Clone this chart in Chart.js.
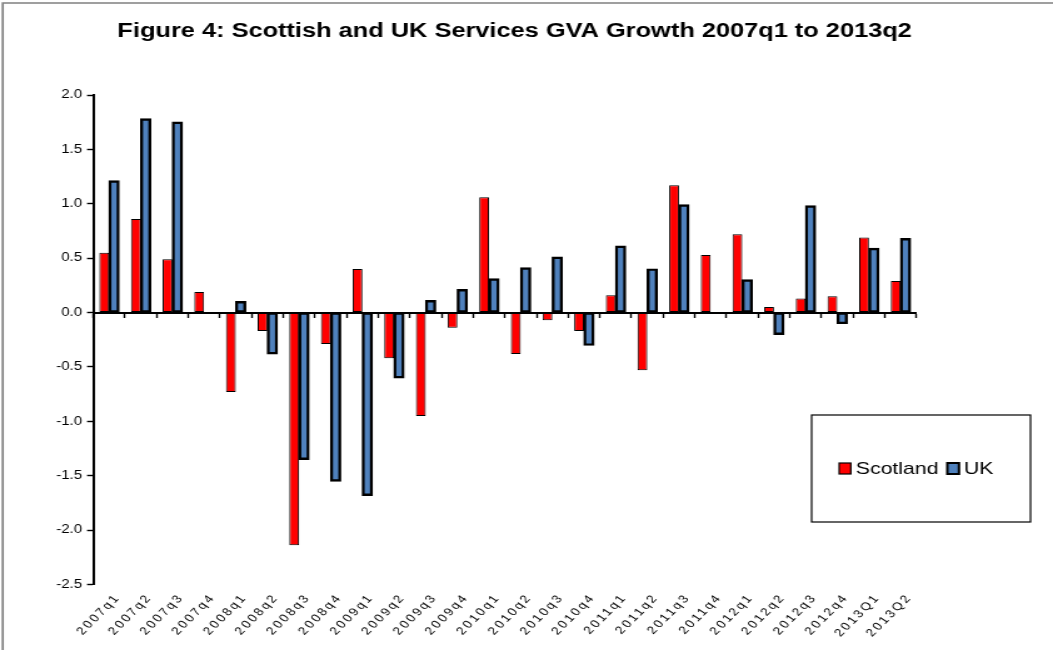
<!DOCTYPE html>
<html>
<head>
<meta charset="utf-8">
<script src="https://cdn.jsdelivr.net/npm/chart.js@4/dist/chart.umd.min.js"></script>
<style>
  html, body { margin: 0; padding: 0; background: #fff; overflow: hidden; }
  #wrap { width: 842px; height: 650px; transform: scaleX(1.2506); transform-origin: 0 0; }
  canvas { display: block; }
</style>
</head>
<body>
<div id="wrap"><canvas id="c" width="842" height="650"></canvas></div>
<script>
// Quarterly services GVA growth, % on previous quarter
const quarters = [
  '2007q1','2007q2','2007q3','2007q4','2008q1','2008q2','2008q3','2008q4',
  '2009q1','2009q2','2009q3','2009q4','2010q1','2010q2','2010q3','2010q4',
  '2011q1','2011q2','2011q3','2011q4','2012q1','2012q2','2012q3','2012q4',
  '2013Q1','2013Q2'
];
const scotland = [
  0.55, 0.86, 0.49, 0.19, -0.73, -0.17, -2.14, -0.29,
  0.40, -0.42, -0.95, -0.14, 1.06, -0.38, -0.07, -0.17,
  0.16, -0.53, 1.17, 0.53, 0.72, 0.05, 0.13, 0.15,
  0.69, 0.29
];
const uk = [
  1.21, 1.78, 1.75, null, 0.10, -0.38, -1.35, -1.55,
  -1.68, -0.60, 0.11, 0.21, 0.31, 0.41, 0.51, -0.30,
  0.61, 0.40, 0.99, null, 0.30, -0.20, 0.98, -0.10,
  0.59, 0.68
];
const seriesNames = ['Scotland', 'UK'];
const seriesColors = ['#FF0000', '#4F81BD'];
const titleText = 'Figure 4: Scottish and UK Services GVA Growth 2007q1 to 2013q2';
const yMin = -2.5, yMax = 2.0, yStep = 0.5;

const FONT = "'Liberation Sans', Arial, Helvetica, sans-serif";

// Frame, title and boxed legend
const decorations = {
  id: 'decorations',
  beforeDraw(chart) {
    const ctx = chart.ctx;
    ctx.save();
    ctx.fillStyle = '#fff';
    ctx.fillRect(0, 0, chart.width, chart.height);
    ctx.strokeStyle = '#808080';
    ctx.lineWidth = 1.7;
    ctx.beginPath();
    ctx.moveTo(2.2, chart.height);
    ctx.lineTo(2.2, 3);
    ctx.lineTo(chart.width, 3);
    ctx.stroke();
    ctx.restore();
  },
  afterDraw(chart) {
    const ctx = chart.ctx;
    ctx.save();
    ctx.fillStyle = '#000';
    ctx.font = 'bold 20.3px ' + FONT;
    ctx.textAlign = 'center';
    ctx.textBaseline = 'alphabetic';
    ctx.fillText(titleText, 411.5, 37);

    // legend box
    const bx = 649, by = 415, bw = 175, bh = 107;
    ctx.strokeStyle = '#000';
    ctx.lineWidth = 1.2;
    ctx.strokeRect(bx, by, bw, bh);
    ctx.font = '17px ' + FONT;
    ctx.textAlign = 'left';
    ctx.textBaseline = 'middle';
    const items = [{ x: 671 }, { x: 757.5 }];
    chart.data.datasets.forEach((ds, i) => {
      const it = items[i];
      ctx.fillStyle = ds.backgroundColor;
      ctx.fillRect(it.x, 463, 9.3, 11);
      ctx.lineWidth = i === 0 ? 1.2 : 2;
      ctx.strokeStyle = '#000';
      ctx.strokeRect(it.x, 463, 9.3, 11);
      ctx.fillStyle = '#000';
      ctx.fillText(ds.label, it.x + 13.3, 469);
    });
    ctx.restore();
  }
};

// Category labels are drawn with a little extra letter spacing
function spacedLabels(scale) {
  if (scale._spaced) return;
  const draw = scale.drawLabels.bind(scale);
  scale.drawLabels = function (area) {
    const ctx = this.ctx;
    const prev = ctx.letterSpacing;
    ctx.letterSpacing = '2px';
    draw(area);
    ctx.letterSpacing = prev || '0px';
  };
  scale._spaced = true;
}

new Chart(document.getElementById('c'), {
  type: 'bar',
  data: {
    labels: quarters,
    datasets: [
      {
        label: seriesNames[0], data: scotland,
        backgroundColor: seriesColors[0], borderColor: '#000', borderWidth: 1,
        borderSkipped: false, inflateAmount: 0,
        categoryPercentage: 0.62, barPercentage: 1.0
      },
      {
        label: seriesNames[1], data: uk,
        backgroundColor: seriesColors[1], borderColor: '#000', borderWidth: 2.4,
        borderSkipped: false, inflateAmount: 0.6,
        categoryPercentage: 0.62, barPercentage: 1.0
      }
    ]
  },
  options: {
    responsive: false,
    animation: false,
    devicePixelRatio: 1,
    layout: { padding: { left: 0, top: 95, right: 109.2, bottom: 0 } },
    plugins: { legend: { display: false }, title: { display: false }, tooltip: { enabled: false } },
    scales: {
      x: {
        type: 'category',
        position: 'bottom',
        offset: true,
        border: { display: false },
        grid: { display: false, drawTicks: false },
        ticks: {
          autoSkip: false, minRotation: 51, maxRotation: 51, padding: 7, labelOffset: 7,
          color: '#000', font: { family: FONT, size: 11 }
        },
        afterFit(scale) { scale.height = 65.5; },
        afterUpdate: spacedLabels
      },
      x2: {
        type: 'category',
        axis: 'x',
        position: { y: 0 },
        offset: true,
        border: { display: true, color: '#000', width: 2 },
        grid: { offset: true, drawOnChartArea: false, drawTicks: true, tickLength: 4, tickWidth: 1.4, tickColor: '#000', color: '#000' },
        ticks: { display: false }
      },
      y: {
        type: 'linear',
        position: 'left',
        min: yMin, max: yMax,
        border: { display: true, color: '#000', width: 2 },
        grid: { drawOnChartArea: false, drawTicks: true, tickLength: 5, tickWidth: 1.4, tickColor: '#000', color: '#000' },
        ticks: {
          stepSize: yStep, padding: 4, color: '#000',
          font: { family: FONT, size: 12 },
          callback: v => Number(v).toFixed(1)
        },
        afterFit(scale) { scale.width = 74.6; }
      }
    }
  },
  plugins: [decorations]
});
</script>
</body>
</html>
